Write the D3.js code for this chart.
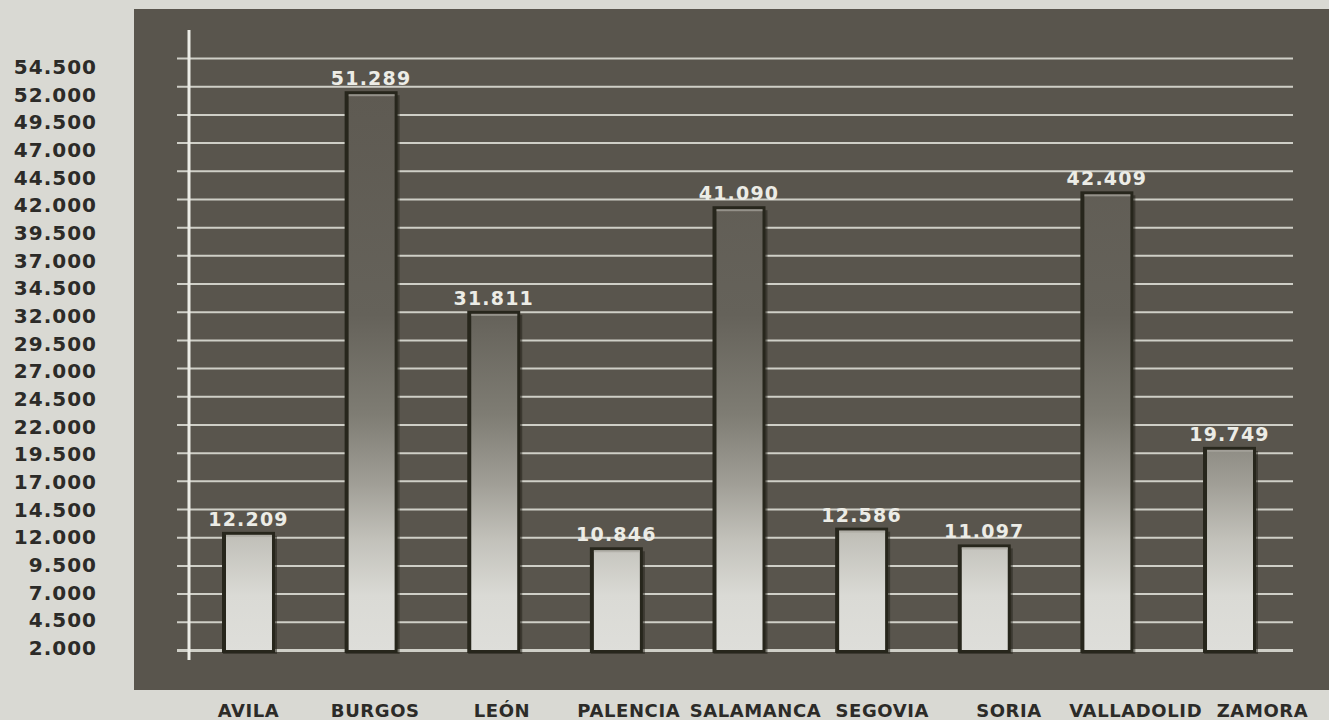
<!DOCTYPE html>
<html>
<head>
<meta charset="utf-8">
<script src="https://cdn.jsdelivr.net/npm/d3@7/dist/d3.min.js"></script>
<style>
  html, body { margin: 0; padding: 0; background: #d9d9d3; }
  svg { display: block; }
  text { font-family: "DejaVu Sans", Verdana, sans-serif; font-weight: bold; }
</style>
</head>
<body>
<svg id="chart" width="1329" height="720"></svg>
<script>
// Provinces of Castilla y León and their values
const provinces = ["AVILA", "BURGOS", "LEÓN", "PALENCIA", "SALAMANCA", "SEGOVIA", "SORIA", "VALLADOLID", "ZAMORA"];
const values = [12209, 51289, 31811, 10846, 41090, 12586, 11097, 42409, 19749];
// Value axis ticks, every 2.500 from 2.000 to 54.500
const tickValues = [2000, 4500, 7000, 9500, 12000, 14500, 17000, 19500, 22000, 24500, 27000,
                    29500, 32000, 34500, 37000, 39500, 42000, 44500, 47000, 49500, 52000, 54500];

const es = d3.formatLocale({ decimal: ",", thousands: ".", grouping: [3], currency: ["", " €"] });
const fmt = es.format(",d");

const svg = d3.select("#chart");

// dark plot panel
svg.append("rect")
  .attr("x", 134).attr("y", 9).attr("width", 1329 - 134).attr("height", 681)
  .attr("fill", "#59554d");

// scales
const x = d3.scaleBand().domain(provinces).range([222, 1256]).paddingInner(0.568).paddingOuter(0);
const y = d3.scaleLinear().domain([2000, 54500]).range([650, 58]);
// tick text sits on its own slightly tighter scale
const yText = d3.scaleLinear().domain([2000, 54500]).range([648, 67]);
// category labels run along their own row under the panel
const xText = d3.scalePoint().domain(provinces).range([248, 1262]);

// vertical gradient for the bars, shared in user space so taller bars darken at the top
const defs = svg.append("defs");
const grad = defs.append("linearGradient")
  .attr("id", "barGrad").attr("gradientUnits", "userSpaceOnUse")
  .attr("x1", 0).attr("x2", 0).attr("y1", 90).attr("y2", 652);
[
  [0.00, "#5e5a52"], [0.40, "#65625a"], [0.58, "#7f7d74"], [0.70, "#a09e96"],
  [0.80, "#c2c1ba"], [0.90, "#dadad5"], [1.00, "#dededa"]
].forEach(([o, c]) => grad.append("stop").attr("offset", o).attr("stop-color", c));

const gridGrad = defs.append("linearGradient").attr("id", "gridGrad")
  .attr("x1", 0).attr("x2", 0).attr("y1", 0).attr("y2", 1);
gridGrad.append("stop").attr("offset", 0).attr("stop-color", "#f0f0ea");
gridGrad.append("stop").attr("offset", 1).attr("stop-color", "#b8b8b0");

// horizontal gridlines with short ticks left of the axis
const grid = d3.axisLeft(y).tickValues(tickValues).tickSize(-(1293 - 177)).tickFormat("");
const gridG = svg.append("g").attr("transform", "translate(177,0)").call(grid);
gridG.select(".domain").remove();
gridG.selectAll(".tick line")
  .attr("stroke", "#d6d6ce")
  .attr("stroke-width", d => d === 2000 ? 3 : 2)
  .attr("stroke-opacity", 0.95);

// vertical axis line
svg.append("line")
  .attr("x1", 189).attr("x2", 189).attr("y1", 30).attr("y2", 660)
  .attr("stroke", "#ecece6").attr("stroke-width", 3);

// tick labels outside the panel
const yAxis = d3.axisLeft(yText).tickValues(tickValues).tickSize(0).tickPadding(0).tickFormat(fmt);
const yG = svg.append("g").attr("transform", "translate(97,0)").call(yAxis);
yG.select(".domain").remove();
yG.selectAll("text")
  .attr("fill", "#2c2b28")
  .attr("font-size", 20)
  .attr("letter-spacing", 1)
  .attr("font-family", "DejaVu Sans, Verdana, sans-serif")
  .attr("font-weight", "bold");

// bars: dark frame, gradient body, thin bevel on top
const bars = svg.append("g").selectAll("g").data(provinces).join("g");
bars.append("rect")
  .attr("x", d => x(d) + 1).attr("y", (d, i) => y(values[i]) + 1)
  .attr("width", x.bandwidth() + 1).attr("height", (d, i) => y(2000) - y(values[i]) + 3)
  .attr("fill", "#1f1e16").attr("opacity", 0.5);
bars.append("rect")
  .attr("x", d => x(d)).attr("y", (d, i) => y(values[i]) - 3)
  .attr("width", x.bandwidth()).attr("height", (d, i) => y(2000) - y(values[i]) + 6)
  .attr("fill", "#27261c");
bars.append("rect")
  .attr("x", d => x(d) + 4).attr("y", (d, i) => y(values[i]))
  .attr("width", x.bandwidth() - 7).attr("height", (d, i) => y(2000) - y(values[i]))
  .attr("fill", "url(#barGrad)");
bars.append("rect")
  .attr("x", d => x(d) + 4).attr("y", (d, i) => y(values[i]))
  .attr("width", x.bandwidth() - 7).attr("height", 2)
  .attr("fill", "#a9a79f").attr("opacity", 0.7);

// value labels above bars
svg.append("g").selectAll("text").data(provinces).join("text")
  .attr("x", d => x(d) + x.bandwidth() / 2)
  .attr("y", (d, i) => y(values[i]) - 9)
  .attr("text-anchor", "middle")
  .attr("fill", "#ecece6")
  .attr("font-size", 19)
  .attr("letter-spacing", 1.2)
  .text((d, i) => fmt(values[i]));

// category labels
const xAxis = d3.axisBottom(xText).tickSize(0).tickPadding(0);
const xG = svg.append("g").attr("transform", "translate(0,704)").call(xAxis);
xG.select(".domain").remove();
xG.selectAll("text")
  .attr("fill", "#2c2b28")
  .attr("font-size", 18)
  .attr("letter-spacing", 0.6)
  .attr("font-family", "DejaVu Sans, Verdana, sans-serif")
  .attr("font-weight", "bold");
</script>
</body>
</html>
